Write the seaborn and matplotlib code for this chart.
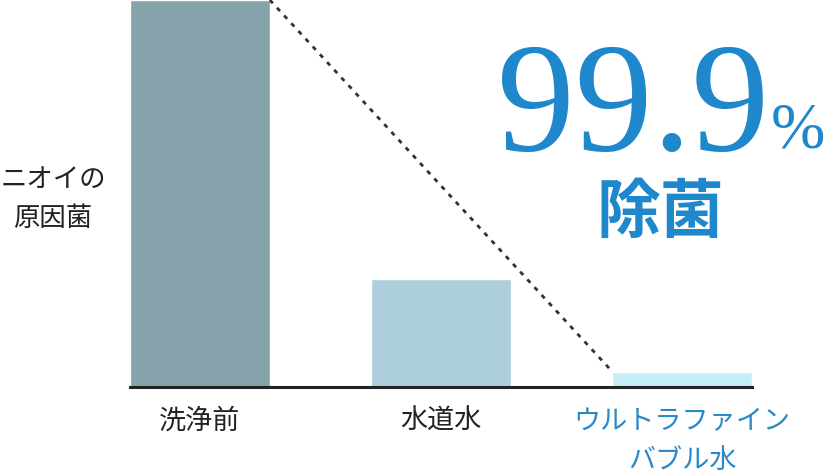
import seaborn as sns
import matplotlib.pyplot as plt

# data
categories = ["洗浄前", "水道水", "ウルトラファイン\nバブル水"]
values = [100, 28, 4]
bar_colors = ["#86a2aa", "#adcfdb", "#c5eef6"]
label_colors = ["#222222", "#222222", "#2a88c8"]
headline = "99.9"
headline_unit = "%"
headline_sub = "除菌"
ylabel_text = "ニオイの\n原因菌"

sns.set_theme(style="white")
jp = ["Noto Sans CJK JP", "DejaVu Sans"]
plt.rcParams["font.family"] = jp

fig = plt.figure(figsize=(8.25, 4.75), dpi=100)
ax = fig.add_axes([130 / 825, 1 - 387 / 475, 622 / 825, 387 / 475])

bar_w = 0.58
sns.barplot(x=categories, y=values, hue=categories, palette=bar_colors,
            width=bar_w, saturation=1, legend=False, ax=ax)
ax.set_xlim(-bar_w / 2, len(values) - 1 + bar_w / 2)
ax.set_ylim(0, max(values))

# dashed guide from top of the first bar to top of the last one
ax.plot([0 + bar_w / 2, len(values) - 1 - bar_w / 2], [values[0], values[-1]],
        color="#333333", lw=2.0, ls=(0, (1.6, 2.2)), clip_on=False, zorder=5)

for s in ["top", "right", "left"]:
    ax.spines[s].set_visible(False)
ax.spines["bottom"].set_color("#222222")
ax.spines["bottom"].set_linewidth(2.2)
ax.set_yticks([])
ax.set_xticks(range(len(categories)))
ax.set_xticklabels(categories, fontsize=19.5, linespacing=1.6)
for lab, c in zip(ax.get_xticklabels(), label_colors):
    lab.set_color(c)
ax.tick_params(axis="x", length=0, pad=15)
ax.set_xlabel("")

ax.set_ylabel(ylabel_text, rotation=0, fontsize=19, color="#222222",
              ha="center", va="center", linespacing=1.6)
ax.yaxis.set_label_coords((53 - 130) / 622, (387 - 199) / 387)

blue = "#1f87cc"
fig.text(497 / 825, 1 - 150 / 475, headline, family="Liberation Serif",
         fontsize=112, color=blue, ha="left", va="baseline")
fig.text(771 / 825, 1 - 148 / 475, headline_unit, family="Liberation Serif",
         fontsize=47, color=blue, ha="left", va="baseline")
fig.text(660 / 825, 1 - 213 / 475, headline_sub, family=jp, fontweight="bold",
         fontsize=46, color=blue, ha="center", va="center")

fig.savefig("out.png", dpi=100)
